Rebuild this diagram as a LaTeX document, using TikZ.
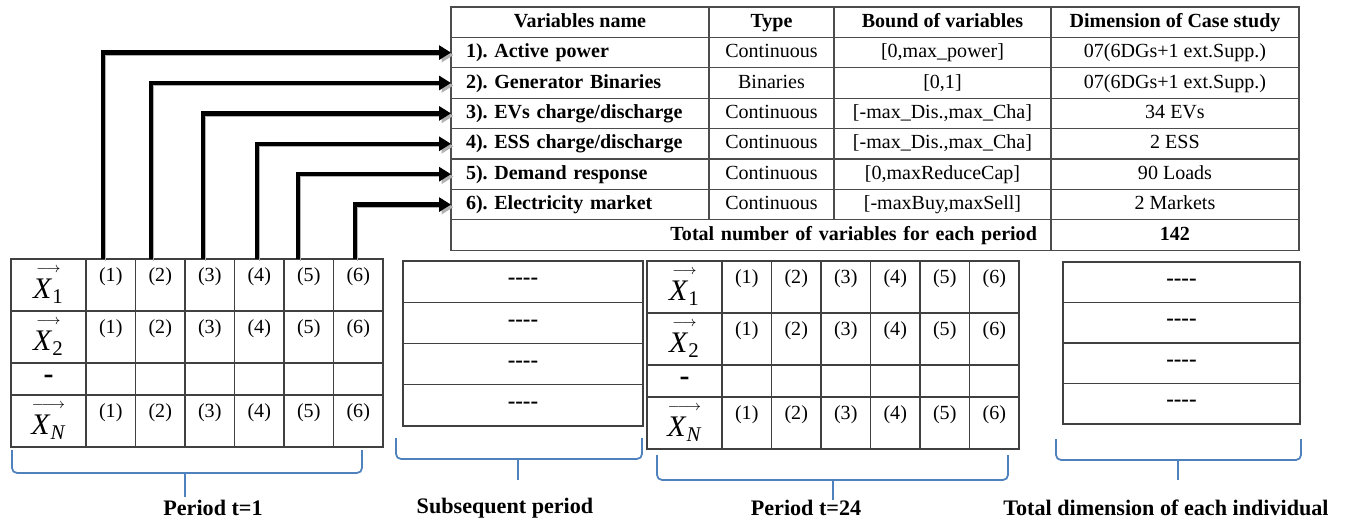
\documentclass[tikz,border=0pt]{standalone}
\usepackage{amsmath}
\usepackage{fontspec}
\setmainfont{Liberation Serif}
\usetikzlibrary{arrows.meta}
\definecolor{braceblue}{RGB}{79,129,189}
\newcommand{\popvec}[2]{\shortstack{$\scriptscriptstyle#2$\\[1pt]\textit{X}$_{#1}$}}

\begin{document}
\frenchspacing
\begin{tikzpicture}[x=0.02cm, y=-0.02cm]
            \tikzstyle{every node}=[inner sep=0pt, outer sep=0pt, font=\fontsize{11.4}{13}\selectfont, text=black]
            \tikzstyle{tcell}=[draw=black!70, line width=0.7pt, anchor=north west, minimum height=0.608cm, text height=1.6ex, text depth=.35ex]
            \tikzstyle{mcell}=[draw=black!75, line width=0.7pt, anchor=north west]
            \tikzstyle{num}=[anchor=north, yshift=-0.17cm]
            \tikzstyle{dots}=[font=\bfseries\fontsize{13}{15}\selectfont]
            \tikzstyle{feed}=[line width=2.6pt, -{Triangle[length=0.24cm, width=0.28cm]}, preaction={draw=black!30, transform canvas={shift={(0.05cm,-0.05cm)}}}]
            \tikzstyle{brace}=[draw=braceblue, line width=1pt, rounded corners=0.1cm]
            \tikzstyle{lbl}=[font=\bfseries\fontsize{12.6}{15}\selectfont]

            \useasboundingbox (0,0) rectangle (1352,523);

            \node[tcell, minimum width=5.16cm] (hname) at (451,7) {\bfseries Variables name};
            \node[tcell, minimum width=2.5cm] (htype) at (709,7) {\bfseries Type};
            \node[tcell, minimum width=4.34cm] (hbound) at (834,7) {\bfseries Bound of variables};
            \node[tcell, minimum width=4.96cm] (hdim) at (1051,7) {\bfseries Dimension of Case study};

            \foreach \i/\nm/\ty/\bd/\dm in {1/Active power/Continuous/{[0,max\_power]}/{07(6DGs+1 ext.Supp.)},
                2/Generator Binaries/Binaries/{[0,1]}/{07(6DGs+1 ext.Supp.)},
                3/EVs charge\slash discharge/Continuous/{[-max\_Dis.,max\_Cha]}/{34 EVs},
                4/ESS charge\slash discharge/Continuous/{[-max\_Dis.,max\_Cha]}/{2 ESS},
                5/Demand response/Continuous/{[0,maxReduceCap]}/{90 Loads},
                6/Electricity market/Continuous/{[-maxBuy,maxSell]}/{2 Markets}} {
                \node[tcell, text width=4.56cm, inner xsep=0.3cm, align=left] (v\i) at (451, {7+\i*30.4}) {\bfseries \i). \nm};
                \node[tcell, minimum width=2.5cm] (t\i) at (709, {7+\i*30.4}) {\ty};
                \node[tcell, minimum width=4.34cm] (b\i) at (834, {7+\i*30.4}) {\bd};
                \node[tcell, minimum width=4.96cm] (d\i) at (1051, {7+\i*30.4}) {\dm};
            }
            \node[tcell, text width=11.44cm, inner xsep=0.28cm, align=right] (total) at (451, {7+7*30.4}) {\bfseries Total number of variables for each period};
            \node[tcell, minimum width=4.96cm] (count) at (1051, {7+7*30.4}) {\bfseries 142};

            \foreach \m/\mx/\my in {a/11/259, b/647/261} {
                \foreach \r/\ry/\rh/\lab in {1/0/1.04cm/{\popvec{\textrm{1}}{\relbar\joinrel\rightarrow}},
                    2/52/1.04cm/{\popvec{\textrm{2}}{\relbar\joinrel\rightarrow}},
                    3/104/0.64cm/{\bfseries -},
                    4/136/1.04cm/{\popvec{\textit{N}}{\relbar\joinrel\relbar\joinrel\rightarrow}}} {
                    \node[mcell, minimum width=1.5cm, minimum height=\rh, font=\fontsize{17}{20}\selectfont] (\m x\r) at (\mx, \my+\ry) {\lab};
                    \foreach \c in {1,...,6}
                        \node[mcell, minimum width=0.99cm, minimum height=\rh] (\m\r\c) at ({\mx+75+(\c-1)*49.5}, \my+\ry) {};
                }
                \foreach \r in {1,2,4}
                    \foreach \c in {1,...,6}
                        \node[num] (\m n\r\c) at (\m\r\c.north) {(\c)};
            }

            \foreach \r in {1,...,4} {
                \node[mcell, dots, minimum width=4.8cm, minimum height=0.825cm] (sub\r) at (403, {261+(\r-1)*41.25}) {-{}-{}-{}-};
                \node[mcell, dots, minimum width=4.74cm, minimum height=0.81cm] (tot\r) at (1063, {262+(\r-1)*40.5}) {-{}-{}-{}-};
            }

            \foreach \i/\sx in {1/103, 2/151, 3/203, 4/257, 5/298, 6/355}
                \coordinate (s\i) at (\sx, 259);
            \foreach \i in {1,...,6}
                \draw[feed] (s\i) |- (v\i.west);

            \draw[brace] (12,450) |- (185,473) -| (362,450);
            \draw[brace] (185,473) -- (185,497);
            \draw[brace] (396,438) |- (518,459) -| (642,438);
            \draw[brace] (518,459) -- (518,480);
            \draw[brace] (657,455) |- (833,480) -| (1008,455);
            \draw[brace] (833,480) -- (833,500);
            \draw[brace] (1056,439) |- (1178,460) -| (1301,439);
            \draw[brace] (1178,460) -- (1178,480);

            \node[lbl] (per1) at (213,508) {Period t=1};
            \node[lbl] (persub) at (505,508) {Subsequent period};
            \node[lbl] (per24) at (806,508) {Period t=24};
            \node[lbl] (pertot) at (1166,508) {Total dimension of each individual};
        \end{tikzpicture}
\end{document}
